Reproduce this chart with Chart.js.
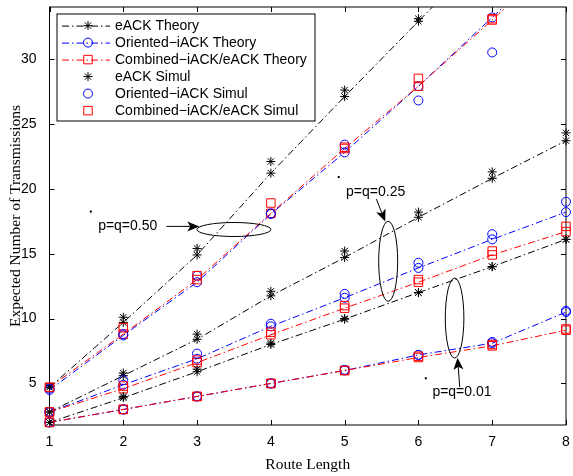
<!DOCTYPE html>
<html>
<head>
<meta charset="utf-8">
<script src="https://cdn.jsdelivr.net/npm/chart.js@4.4.1/dist/chart.umd.min.js"></script>
<style>
html, body { margin: 0; padding: 0; background: #fff; }
#wrap { width: 573px; height: 476px; }
</style>
</head>
<body>
<div id="wrap"><canvas id="plot"></canvas></div>
<script>
"use strict";
const routes = [1, 2, 3, 4, 5, 6, 7, 8];
const xTicks = [1, 2, 3, 4, 5, 6, 7, 8];
const yTicks = [5, 10, 15, 20, 25, 30];
const legendLabels = ['eACK Theory', 'Oriented\u2212iACK Theory', 'Combined\u2212iACK/eACK Theory',
    'eACK Simul', 'Oriented\u2212iACK Simul', 'Combined\u2212iACK/eACK Simul'];

// p=q=0.50
const eackTheory50 = [4.7, 9.7, 14.9, 21.2, 27.1, 32.9, 38.7, 44.5];
const orientTheory50 = [4.5, 8.7, 12.8, 18.05, 22.8, 27.9, 33.2, 38.5];
const combTheory50 = [4.7, 8.8, 13.0, 18.1, 23.1, 27.9, 33.0, 38.3];
const eackSim50 = [4.8, 10.1, 15.4, 22.1, 27.6, 33.1, null, null];
const orientSim50 = [4.6, 8.8, 13.3, 18.1, 23.4, 26.8, 30.5, null];
const combSim50 = [4.7, 9.3, 13.3, 18.9, 23.2, 28.5, 33.1, null];

// p=q=0.25
const eackTheory25 = [2.8, 5.6, 8.4, 11.75, 14.7, 17.8, 20.8, 23.7];
const orientTheory25 = [2.8, 4.9, 6.9, 9.4, 11.6, 13.9, 16.1, 18.2];
const combTheory25 = [2.8, 4.6, 6.6, 8.75, 10.8, 12.8, 14.9, 16.7];
const eackSim25 = [2.8, 5.8, 8.8, 12.1, 15.2, 18.2, 21.3, 24.3];
const orientSim25 = [2.8, 5.25, 7.3, 9.6, 11.9, 14.3, 16.5, 19.0];
const combSim25 = [2.8, 4.8, 6.8, 8.95, 11.0, 13.0, 15.2, 17.1];

// p=q=0.01
const eackTheory01 = [2.0, 3.9, 5.9, 8.0, 9.95, 12.0, 14.0, 16.1];
const orientTheory01 = [2.0, 3.0, 4.0, 5.0, 6.0, 7.2, 8.1, 10.5];
const combTheory01 = [2.0, 3.0, 4.0, 5.0, 6.0, 7.0, 7.9, 9.1];
const eackSim01 = [2.0, 4.0, 6.1, 8.1, 10.0, 12.0, 14.0, 16.1];
const orientSim01 = [2.0, 3.0, 4.0, 5.0, 6.05, 7.2, 8.2, 10.6];
const combSim01 = [2.0, 3.0, 4.0, 5.0, 6.0, 7.1, 8.0, 9.2];

const sansFont = '"Liberation Sans", Arial, Helvetica, sans-serif';
const serifFont = '"Liberation Serif", "Times New Roman", Times, serif';
const dashDot = [7, 3, 1.5, 3];
const clipBox = {left: 8, right: 8, top: 0, bottom: 8};

const kinds = [
    {color: '#000000', style: 'star', radius: 4.5},
    {color: '#0000ff', style: 'circle', radius: 4.5},
    {color: '#ff0000', style: 'rect', radius: 6},
];
const theorySets = [
    [eackTheory50, eackTheory25, eackTheory01],
    [orientTheory50, orientTheory25, orientTheory01],
    [combTheory50, combTheory25, combTheory01],
];
const simSets = [
    [eackSim50, eackSim25, eackSim01],
    [orientSim50, orientSim25, orientSim01],
    [combSim50, combSim25, combSim01],
];

function toPoints(values) {
    return routes.map((r, i) => ({x: r, y: values[i]})).filter(p => p.y !== null);
}

const datasets = [];
theorySets.forEach((group, k) => {
    group.forEach(values => {
        datasets.push({
            label: legendLabels[k],
            data: toPoints(values),
            showLine: true,
            borderColor: kinds[k].color,
            borderWidth: 1,
            borderDash: dashDot,
            pointStyle: kinds[k].style,
            pointRadius: kinds[k].radius,
            pointBorderColor: kinds[k].color,
            pointBackgroundColor: 'rgba(0,0,0,0)',
            pointBorderWidth: 1,
            clip: clipBox,
            order: 10 - k,
        });
    });
});
simSets.forEach((group, k) => {
    group.forEach(values => {
        datasets.push({
            label: legendLabels[k + 3],
            data: toPoints(values),
            showLine: false,
            pointStyle: kinds[k].style,
            pointRadius: kinds[k].radius,
            pointBorderColor: kinds[k].color,
            pointBackgroundColor: 'rgba(0,0,0,0)',
            pointBorderWidth: 1,
            clip: clipBox,
            order: 5 - k,
        });
    });
});

// annotation placement (data units), ellipse radii in px
const notes = [
    {text: 'p=q=0.50', at: [2.06, 17.1], from: [2.585, 17.1], to: [3.03, 17.1], ell: [3.50, 16.86], r: [37, 7], dot: [1.56, 18.24]},
    {text: 'p=q=0.25', at: [5.42, 19.76], from: [5.43, 19.2], to: [5.55, 17.47], ell: [5.59, 14.41], r: [9.5, 40], dot: [4.92, 20.9]},
    {text: 'p=q=0.01', at: [6.59, 4.34], from: [6.56, 4.72], to: [6.53, 6.98], ell: [6.49, 10.04], r: [9.3, 40], dot: [6.10, 5.40]},
];

function marker(ctx, style, x, y, r, color) {
    ctx.save();
    ctx.strokeStyle = color;
    ctx.lineWidth = 1;
    ctx.setLineDash([]);
    ctx.beginPath();
    if (style === 'circle') {
        ctx.arc(x, y, r, 0, Math.PI * 2);
    } else if (style === 'rect') {
        const s = r * Math.SQRT1_2;
        ctx.rect(x - s, y - s, 2 * s, 2 * s);
    } else {
        const d = r * Math.SQRT1_2;
        ctx.moveTo(x - r, y); ctx.lineTo(x + r, y);
        ctx.moveTo(x, y - r); ctx.lineTo(x, y + r);
        ctx.moveTo(x - d, y - d); ctx.lineTo(x + d, y + d);
        ctx.moveTo(x - d, y + d); ctx.lineTo(x + d, y - d);
    }
    ctx.stroke();
    ctx.restore();
}

function arrow(ctx, x1, y1, x2, y2) {
    const len = Math.hypot(x2 - x1, y2 - y1);
    const ux = (x2 - x1) / len, uy = (y2 - y1) / len;
    const nx = -uy, ny = ux;
    const L = 12, w = 5, notch = 3;
    const bx = x2 - ux * L, by = y2 - uy * L;
    ctx.beginPath();
    ctx.moveTo(x1, y1);
    ctx.lineTo(x2 - ux * (L - notch), y2 - uy * (L - notch));
    ctx.stroke();
    ctx.beginPath();
    ctx.moveTo(x2, y2);
    ctx.lineTo(bx + nx * w, by + ny * w);
    ctx.lineTo(x2 - ux * (L - notch), y2 - uy * (L - notch));
    ctx.lineTo(bx - nx * w, by - ny * w);
    ctx.closePath();
    ctx.fill();
}

const framePlugin = {
    id: 'frame',
    beforeDatasetsDraw(chart) {
        const {ctx, chartArea: a, scales} = chart;
        ctx.save();
        ctx.strokeStyle = '#000';
        ctx.lineWidth = 1;
        ctx.strokeRect(a.left, a.top, a.right - a.left, a.bottom - a.top);
        ctx.beginPath();
        xTicks.forEach(v => {
            const px = Math.round(scales.x.getPixelForValue(v)) + 0.5;
            ctx.moveTo(px, a.bottom); ctx.lineTo(px, a.bottom - 5);
            ctx.moveTo(px, a.top); ctx.lineTo(px, a.top + 5);
        });
        yTicks.forEach(v => {
            const py = Math.round(scales.y.getPixelForValue(v)) + 0.5;
            ctx.moveTo(a.left, py); ctx.lineTo(a.left + 5, py);
            ctx.moveTo(a.right, py); ctx.lineTo(a.right - 5, py);
        });
        ctx.stroke();
        ctx.restore();
    },
    afterDraw(chart) {
        const {ctx, chartArea: a, scales} = chart;
        const X = v => scales.x.getPixelForValue(v);
        const Y = v => scales.y.getPixelForValue(v);
        ctx.save();
        ctx.strokeStyle = '#000';
        ctx.fillStyle = '#000';
        ctx.lineWidth = 1;
        ctx.font = '14px ' + sansFont;
        ctx.textAlign = 'center';
        ctx.textBaseline = 'middle';
        notes.forEach(n => {
            ctx.fillText(n.text, X(n.at[0]), Y(n.at[1]));
            arrow(ctx, X(n.from[0]), Y(n.from[1]), X(n.to[0]), Y(n.to[1]));
            ctx.beginPath();
            ctx.ellipse(X(n.ell[0]), Y(n.ell[1]), n.r[0], n.r[1], 0, 0, Math.PI * 2);
            ctx.stroke();
            ctx.fillRect(X(n.dot[0]) - 1, Y(n.dot[1]) - 1, 2, 2);
        });

        // legend box
        const bx = a.left + 7.5, by = a.top + 7, bw = 258, bh = 107;
        ctx.fillStyle = '#fff';
        ctx.fillRect(bx, by, bw, bh);
        ctx.strokeRect(bx, by, bw, bh);
        ctx.textAlign = 'left';
        legendLabels.forEach((label, i) => {
            const k = i % 3;
            const ry = by + 11.6 + i * 17;
            const mx = bx + 31;
            if (i < 3) {
                ctx.save();
                ctx.strokeStyle = kinds[k].color;
                ctx.setLineDash(dashDot);
                ctx.beginPath();
                ctx.moveTo(bx + 5, ry + 0.5);
                ctx.lineTo(bx + 53, ry + 0.5);
                ctx.stroke();
                ctx.restore();
            }
            marker(ctx, kinds[k].style, mx, ry, kinds[k].radius, kinds[k].color);
            ctx.fillStyle = '#000';
            ctx.fillText(label, bx + 58, ry + 1);
        });
        ctx.restore();
    },
};

new Chart(document.getElementById('plot'), {
    type: 'scatter',
    data: {datasets: datasets},
    options: {
        responsive: true,
        maintainAspectRatio: false,
        animation: false,
        events: [],
        layout: {padding: {left: 0, right: 4.5, top: 6, bottom: 0}},
        plugins: {legend: {display: false}, tooltip: {enabled: false}},
        scales: {
            x: {
                type: 'linear',
                min: 1,
                max: 8,
                grid: {display: false},
                border: {display: false},
                afterBuildTicks: scale => { scale.ticks = xTicks.map(v => ({value: v})); },
                afterFit: scale => {
                    scale.height = 51;
                    scale.paddingLeft = 0;
                    scale.paddingRight = 0;
                },
                ticks: {color: '#000', padding: 1, font: {family: sansFont, size: 14}},
                title: {
                    display: true, text: 'Route Length', color: '#000',
                    font: {family: serifFont, size: 15.5, lineHeight: 1.2},
                    padding: {top: 0, bottom: 2},
                },
            },
            y: {
                type: 'linear',
                min: 1.8,
                max: 34,
                grid: {display: false},
                border: {display: false},
                afterBuildTicks: scale => { scale.ticks = yTicks.map(v => ({value: v})); },
                afterFit: scale => {
                    scale.width = 49.5;
                    scale.paddingTop = 0;
                    scale.paddingBottom = 0;
                },
                ticks: {color: '#000', padding: 5, font: {family: sansFont, size: 14}},
                title: {
                    display: true, text: 'Expected Number of Transmissions', color: '#000',
                    font: {family: serifFont, size: 15.5, lineHeight: 1.2},
                    padding: {top: 7, bottom: 0},
                },
            },
        },
    },
    plugins: [framePlugin],
});
</script>
</body>
</html>
